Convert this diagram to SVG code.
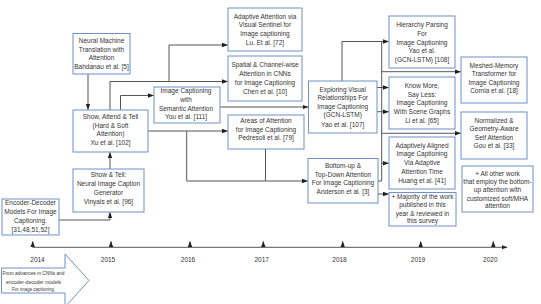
<svg xmlns="http://www.w3.org/2000/svg" width="541" height="304" viewBox="0 0 541 304">
<defs>
<marker id="ah" markerUnits="userSpaceOnUse" markerWidth="6" markerHeight="6" viewBox="0 0 6 6" refX="5.5" refY="3" orient="auto">
<path d="M0,0.8 L6,3 L0,5.2 Z" fill="#222"/>
</marker>
<style>
.box{fill:#fff;stroke:#6f8fc6;stroke-width:1}
.ln{fill:none;stroke:#555;stroke-width:1}
.ar{fill:none;stroke:#555;stroke-width:1;marker-end:url(#ah)}
text{font-family:"Liberation Sans",Arial,sans-serif;font-size:6.5px;fill:#333;text-anchor:middle}
.sm{font-size:5.8px}
</style>
</defs>
<rect width="541" height="304" fill="#fff"/>

<g id="connectors">
<path class="ar" d="M88,74 V109.5"/>
<path class="ar" d="M110,110 V81.5 H227.5"/>
<path class="ln" d="M169,81.5 V45"/>
<path class="ar" d="M169,45 H227.5"/>
<path class="ar" d="M120.5,110 V95.5 H153.5"/>
<path class="ar" d="M148,131 H227.5"/>
<path class="ar" d="M186.7,131 V181 H307.5"/>
<path class="ln" d="M265.5,149 V181"/>
<path class="ar" d="M220,107 H308"/>
<path class="ar" d="M342,81 V41.5 H388.5"/>
<path class="ln" d="M381.7,41.5 V181 H378"/>
<path class="ar" d="M381.7,71.7 H460.5"/>
<path class="ar" d="M381.7,133.3 H460.5"/>
<path class="ar" d="M381.7,163.3 H388.5"/>
<path class="ar" d="M377,87.5 H388.5"/>
<path class="ar" d="M377,111.7 H388.5"/>
<path class="ar" d="M378,194 H388.5"/>
<path class="ar" d="M110,169 V152.5"/>
<path class="ar" d="M59,220 H110 V212.5"/>
<path class="ar" d="M32.7,247.3 H507"/>
<path class="ar" d="M32.7,247.3 V241.5"/>
<path class="ar" d="M111,247.3 V241.5"/>
<path class="ar" d="M190,247.3 V241.5"/>
<path class="ar" d="M263.3,247.3 V241.5"/>
<path class="ar" d="M342.7,247.3 V241.5"/>
<path class="ar" d="M420.7,247.3 V241.5"/>
<path class="ar" d="M493.3,247.3 V241.5"/>
</g>

<g id="nmt">
<rect class="box" x="73" y="33.5" width="57" height="40.5"/>
<text x="101.5" y="43">Neural Machine</text>
<text x="101.5" y="51.6">Translation with</text>
<text x="101.5" y="60.3">Attention</text>
<text x="101.5" y="69">Bahdanau et al. [5]</text>
</g>

<g id="sat">
<rect class="box" x="73" y="110" width="75" height="42"/>
<text x="110.5" y="118.8">Show, Attend &amp; Tell</text>
<text x="110.5" y="127.5">(Hard &amp; Soft</text>
<text x="110.5" y="136.2">Attention)</text>
<text x="110.5" y="144.9">Xu et al. [102]</text>
</g>

<g id="showtell">
<rect class="box" x="73" y="169" width="71" height="43"/>
<text x="108.5" y="177.4">Show &amp; Tell:</text>
<text x="108.5" y="186.2">Neural Image Caption</text>
<text x="108.5" y="195">Generator</text>
<text x="108.5" y="203.8">Vinyals et al. [96]</text>
</g>

<g id="encdec">
<rect class="box" x="2" y="199" width="57" height="36"/>
<text x="30.5" y="205">Encoder-Decoder</text>
<text x="30.5" y="213.9">Models For Image</text>
<text x="30.5" y="222.8">Captioning.</text>
<text x="30.5" y="231.6">[31,48,51,52]</text>
</g>

<g id="semantic">
<rect class="box" x="154" y="87" width="66" height="36"/>
<text x="186" y="93">Image Captioning</text>
<text x="186" y="101.7">with</text>
<text x="186" y="110.5">Semantic Attention</text>
<text x="186" y="119.4">You et al. [111]</text>
</g>

<g id="adaptive">
<rect class="box" x="228" y="8" width="74" height="43"/>
<text x="265" y="19">Adaptive Attention via</text>
<text x="265" y="27.4">Visual Sentinel for</text>
<text x="265" y="35.8">Image captioning</text>
<text x="265" y="44.5">Lu. Et al. [72]</text>
</g>

<g id="spatial">
<rect class="box" x="228" y="56" width="74" height="45"/>
<text x="265" y="67.3">Spatial &amp; Channel-wise</text>
<text x="265" y="76.2">Attention in CNNs</text>
<text x="265" y="85">for Image Captioning</text>
<text x="265" y="93.9">Chen et al. [10]</text>
</g>

<g id="areas">
<rect class="box" x="228" y="115" width="76" height="34"/>
<text x="266" y="123">Areas of Attention</text>
<text x="266" y="131.6">for Image Captioning</text>
<text x="266" y="140">Pedresoli et al. [79]</text>
</g>

<g id="exploring">
<rect class="box" x="308.5" y="81" width="68.5" height="52"/>
<text x="342.7" y="91.6">Exploring Visual</text>
<text x="342.7" y="100.4">Relationships For</text>
<text x="342.7" y="109">Image Captioning</text>
<text x="342.7" y="117.4">(GCN-LSTM)</text>
<text x="342.7" y="126.5">Yao et al. [107]</text>
</g>

<g id="bottomup">
<rect class="box" x="308" y="158.5" width="70" height="44.5"/>
<text x="343" y="168">Bottom-up &amp;</text>
<text x="343" y="176.6">Top-Down Attention</text>
<text x="343" y="185.3">For Image Captioning</text>
<text x="343" y="194">Anderson et al. [3]</text>
</g>

<g id="hierarchy">
<rect class="box" x="389" y="16" width="66" height="52"/>
<text x="422" y="27.3">Hierarchy Parsing</text>
<text x="422" y="35.6">For</text>
<text x="422" y="44.6">Image Captioning</text>
<text x="422" y="53.3">Yao et al.</text>
<text x="422" y="62.3">(GCN-LSTM) [108]</text>
</g>

<g id="knowmore">
<rect class="box" x="389" y="77" width="66" height="52"/>
<text x="422" y="88.3">Know More,</text>
<text x="422" y="96.6">Say Less:</text>
<text x="422" y="105">Image Captioning</text>
<text x="422" y="114">With Scene Graphs</text>
<text x="422" y="123">Li et al. [65]</text>
</g>

<g id="aligned">
<rect class="box" x="389" y="137" width="66" height="52"/>
<text x="422" y="148">Adaptively Aligned</text>
<text x="422" y="156.3">Image Captioning</text>
<text x="422" y="165">Via Adaptive</text>
<text x="422" y="174">Attention Time</text>
<text x="422" y="183">Huang et al. [41]</text>
</g>

<g id="majority">
<rect class="box" x="389" y="192.5" width="67" height="33.5"/>
<text x="422.5" y="199">+ Majority of the work</text>
<text x="422.5" y="207.3">published in this</text>
<text x="422.5" y="215.6">year &amp; reviewed in</text>
<text x="422.5" y="223.3">this survey</text>
</g>

<g id="meshed">
<rect class="box" x="461" y="57" width="66" height="46"/>
<text x="494" y="68">Meshed-Memory</text>
<text x="494" y="76.3">Transformer for</text>
<text x="494" y="84.6">Image Captioning</text>
<text x="494" y="93.3">Cornia et al. [18]</text>
</g>

<g id="normalized">
<rect class="box" x="461" y="112" width="66" height="47"/>
<text x="494" y="123">Normalized &amp;</text>
<text x="494" y="131.3">Geometry-Aware</text>
<text x="494" y="139.6">Self Attention</text>
<text x="494" y="148.3">Gou et al. [33]</text>
</g>

<g id="allother">
<rect class="box" x="462" y="166" width="71" height="46"/>
<text x="497.5" y="175.6">+ All other work</text>
<text x="497.5" y="184">that employ the bottom-</text>
<text x="497.5" y="192.3">up attention with</text>
<text x="497.5" y="200.6">customized soft/MHA</text>
<text x="497.5" y="208.3">attention</text>
</g>

<g id="years">
<text x="37.5" y="262.3">2014</text>
<text x="108" y="262.3">2015</text>
<text x="188" y="262.3">2016</text>
<text x="261.7" y="262.3">2017</text>
<text x="339.5" y="262.3">2018</text>
<text x="418" y="262.3">2019</text>
<text x="490.3" y="262.3">2020</text>
</g>

<g id="bigarrow">
<path d="M1.5,268 H65 V254 L89,280.5 L65,307 V293 H1.5 Z" fill="#fff" stroke="#6f8fc6" stroke-width="1"/>
<text class="sm" x="33.5" y="275.3" textLength="62" lengthAdjust="spacingAndGlyphs">From advances in CNNs and</text>
<text class="sm" x="33.5" y="283.5" textLength="55" lengthAdjust="spacingAndGlyphs">encoder-decoder models</text>
<text class="sm" x="33.5" y="291.3" textLength="43" lengthAdjust="spacingAndGlyphs">For image captioning.</text>
</g>
</svg>
